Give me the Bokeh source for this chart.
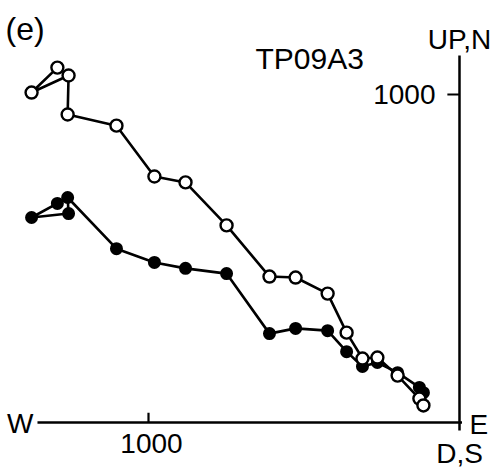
from bokeh.plotting import figure
from bokeh.models import Range1d, Label
from bokeh.core.properties import value
from bokeh.embed import file_html
from bokeh.resources import INLINE

# Demagnetisation steps of specimen TP09A3 (orthogonal vector components)
east = [-1293, -1376, -1257, -1260, -1103, -981, -881, -749, -611, -527,
        -424, -363, -312, -264, -199, -129, -116]
# vertical projection: E vs UP (open circles)
up = [1082, 1006, 1058, 939, 905, 750, 732, 601, 445, 442,
      393, 274, 195, 198, 143, 73, 52]
# horizontal projection: E vs N (solid circles)
north = [668, 625, 637, 686, 530, 488, 470, 454, 271, 287,
         280, 216, 171, 183, 152, 107, 91]

tick_value = 1000
tick_label = "1000"

FONT = value("Liberation Sans")

p = figure(width=497, height=468, output_backend="svg", toolbar_location=None,
           x_axis_type=None, y_axis_type=None, min_border=0,
           x_range=Range1d(-1475.9, 122.2), y_range=Range1d(-140.2, 1286.6))
p.outline_line_color = None
p.background_fill_color = "white"
p.border_fill_color = "white"

# Cross-shaped axes through the origin
p.segment(x0=[-1357, 0], y0=[0, 1119], x1=[8, 0], y1=[0, -24],
          line_color="black", line_width=2.5)
# ticks at 1000 on each axis
p.segment(x0=[-tick_value, 0], y0=[0, tick_value], x1=[-tick_value, -39], y1=[30, tick_value],
          line_color="black", line_width=2.2)
p.text(x=[-tick_value], y=[0], text=[tick_label], text_font=FONT, text_font_size="28px",
       text_align="center", text_baseline="top", x_offset=3, y_offset=11, text_color="black")
p.text(x=[0], y=[tick_value], text=[tick_label], text_font=FONT, text_font_size="28px",
       text_align="right", text_baseline="middle", x_offset=-24, y_offset=0, text_color="black")

# axis end labels
p.text(x=[-1357], y=[0], text=["W"], text_font=FONT, text_font_size="28px",
       text_align="right", text_baseline="middle", x_offset=-4, y_offset=1, text_color="black")
p.text(x=[0], y=[0], text=["E"], text_font=FONT, text_font_size="28px",
       text_align="left", text_baseline="middle", x_offset=10, y_offset=2, text_color="black")
p.text(x=[0], y=[0], text=["D,S"], text_font=FONT, text_font_size="28px",
       text_align="center", text_baseline="middle", x_offset=0, y_offset=31, text_color="black")
p.text(x=[0], y=[1119], text=["UP,N"], text_font=FONT, text_font_size="28px",
       text_align="center", text_baseline="alphabetic", x_offset=0, y_offset=-16, text_color="black")

# data paths
p.line(east, north, line_color="black", line_width=2.6)
p.line(east, up, line_color="black", line_width=2.6)
p.scatter(east, north, marker="circle", size=11, fill_color="black",
          line_color="black", line_width=2)
p.scatter(east, up, marker="circle", size=12, fill_color="white",
          line_color="black", line_width=2.4)

p.add_layout(Label(x=255, y=410, x_units="screen", y_units="screen", text="TP09A3",
                   text_font="Liberation Sans", text_font_size="30px",
                   text_baseline="alphabetic", text_color="black"))
p.add_layout(Label(x=5, y=440, x_units="screen", y_units="screen", text="(e)",
                   text_font="Liberation Sans", text_font_size="32px",
                   text_baseline="alphabetic", text_color="black"))

open("out.html", "w").write(file_html(p, INLINE))
